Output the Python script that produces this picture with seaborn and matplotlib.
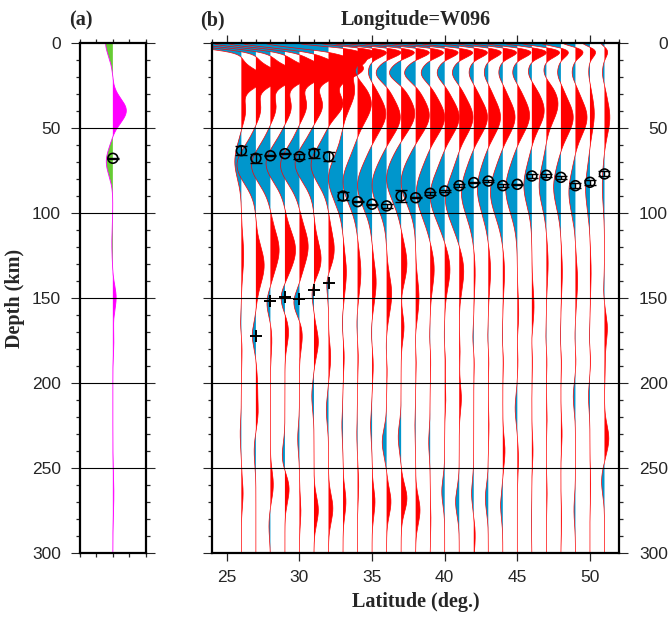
import numpy as np
import seaborn as sns
import matplotlib
matplotlib.use("Agg")
import matplotlib.pyplot as plt
from matplotlib.ticker import MultipleLocator

# ---- data ----
lats = list(range(26, 52))

# each trace = sum of pulses (depth km, amplitude in deg. of latitude, width km)
surf_dep = [0] * 26
surf_amp = [-5, -5, -5, -5, -5, -5, -4.5,
            -3.5, -3, -3, -3, -3, -3, -3, -3, -3, -2.5, -2.5, -2.5, -2.5,
            -2.2, -2, -1.5, -1, -0.6, -0.3]
surf_wid = [3] * 7 + [2] * 19

shal_dep = [21, 20, 19, 18, 17, 16, 15, 9, 6] + [5.5] * 17
shal_amp = [1.6, 1.8, 1.9, 2.0, 2.1, 2.2, 2.4, 1.5, 1.3, 1.05, 1.08, 1.0, 1.03,
            1.0, 1.0, 1.0, 1.0, 0.95, 1.0, 1.0, 1.05, 0.95, 0.55, 0.55, 0.4, 0.23]
shal_wid = [5, 5, 5, 5, 5, 5, 6, 5, 3.5] + [3] * 17

mid_dep = [30] * 7 + [18] * 19
mid_amp = [0] * 7 + [0, -0.3, -0.3, -0.75, -0.85, -0.8, -0.65, -0.55, -0.5, -0.35,
                     -0.3, -0.3, -0.35, -0.3, -0.3, -0.25, -0.25, -0.1, -0.15]
mid_wid = [5] * 26

moho_dep = [40, 39, 38, 38, 37, 37, 36, 28, 36, 42, 44, 42, 43, 44, 44, 44, 44,
            44, 44, 43, 40, 36, 44, 44, 42, 44]
moho_amp = [0.3, 0.35, 0.4, 0.45, 0.5, 0.6, 1.0, 0.8, 0.95, 0.95, 0.95, 0.95,
            0.95, 1.0, 1.0, 0.95, 0.95, 0.85, 0.85, 0.85, 0.85, 0.8, 0.85, 0.8,
            0.3, 0.37]
moho_wid = [7] * 7 + [10] * 19

lab_dep = [70, 72, 72, 71, 72, 71, 72, 80, 82, 84, 84, 80, 82, 88, 90, 92, 88,
           86, 88, 86, 84, 84, 85, 88, 86, 84]
lab_amp = [-0.45, -1.3, -1.3, -1.3, -1.3, -1.3, -1.2, -1.0, -1.0, -1.0, -1.0,
           -1.0, -1.0, -0.95, -1.0, -0.95, -0.85, -0.75, -0.85, -0.8, -0.55,
           -0.5, -0.5, -0.45, -0.3, -0.15]
lab_wid = [10] + [11] * 6 + [13] * 6 + [14] * 7 + [12] * 6

p1_dep = [125, 131, 122, 122, 120, 128, 122, 135, 135, 141, 148, 130, 150, 133,
          133, 134, 135, 134, 135, 160, 155, 130, 135, 140, 135, 168]
p1_amp = [0.16, 0.57, 0.6, 0.73, 0.6, 0.5, 0.4, 0.23, 0.23, 0.28, 0.35, 0.4,
          0.23, 0.28, 0.37, 0.32, 0.1, 0.16, 0.12, 0.1, 0.15, 0.12, 0.1, 0.15,
          0.08, 0.2]
p1_wid = [11] * 25 + [8]

n1_dep = [165, 172, 153, 150, 153, 145, 140, 165, 165, 170, 180, 150, 175, 175,
          175, 175, 175, 175, 175, 175, 175, 175, 175, 175, 175, 145]
n1_amp = [-0.06, -0.25, -0.25, -0.3, -0.4, -0.25, -0.2, -0.05, -0.05, -0.05,
          -0.05, -0.05, -0.05, -0.05, -0.05, -0.05, -0.08, -0.05, -0.05, -0.05,
          -0.05, -0.05, -0.05, -0.05, -0.05, -0.06]
n1_wid = [7] * 26

p2_dep = [180, 200, 175, 170, 172, 176, 185, 185, 185, 190, 190, 167, 185, 185,
          185, 178, 185, 185, 185, 185, 185, 185, 185, 185, 185, 190]
p2_amp = [0.05, 0.1, 0.1, 0.25, 0.2, 0.3, 0.15, 0.08, 0.05, 0.08, 0.05, 0.2,
          0.05, 0.05, 0.06, 0.1, 0.05, 0.05, 0.05, 0.05, 0.05, 0.05, 0.05, 0.05,
          0.05, 0.05]
p2_wid = [8] * 26

d1_dep = [230, 217, 260, 244, 233, 208, 216, 225, 230, 225, 235, 232, 225, 235,
          208, 209, 290, 225, 240, 215, 240, 220, 230, 208, 208, 233]
d1_amp = [-0.08, 0.15, 0.2, -0.2, -0.12, -0.15, -0.15, -0.08, -0.05, -0.1, -0.3,
          -0.2, -0.05, -0.1, 0.08, 0.15, 0.1, 0.05, 0.15, -0.15, 0.08, 0.05,
          0.08, -0.15, -0.1, 0.3]
d1_wid = [8] * 26

d2_dep = [265, 240, 284, 262, 275, 275, 274, 270, 260, 270, 270, 268, 275, 280,
          264, 270, 265, 268, 272, 245, 280, 265, 280, 275, 260, 258]
d2_amp = [0.12, -0.12, -0.1, 0.3, 0.1, 0.3, 0.3, 0.2, 0.08, 0.2, 0.3, 0.4, 0.3,
          0.05, -0.2, -0.25, -0.15, -0.2, -0.15, 0.08, -0.03, 0.05, 0.05, -0.1,
          0.05, -0.2]
d2_wid = [8] * 26

pulses = [(surf_dep, surf_amp, surf_wid), (shal_dep, shal_amp, shal_wid),
          (mid_dep, mid_amp, mid_wid), (moho_dep, moho_amp, moho_wid),
          (lab_dep, lab_amp, lab_wid), (p1_dep, p1_amp, p1_wid),
          (n1_dep, n1_amp, n1_wid), (p2_dep, p2_amp, p2_wid),
          (d1_dep, d1_amp, d1_wid), (d2_dep, d2_amp, d2_wid)]

# picks: circles with depth error, crosses
circ_lat = lats
circ_dep = [63.5, 68, 66.5, 65.3, 67, 65.1, 67, 90.2, 93.5, 95, 96, 90.2, 91.2,
            88.6, 87.2, 84.1, 82.3, 81.4, 84.1, 83.3, 78.4, 78, 79.2, 84.1, 82.1,
            77.2]
circ_err = [2.5, 2.5, 0.4, 0.4, 1.5, 2.5, 2.5, 2.5, 0.4, 0.4, 1.0, 3.5, 0.4, 1.0,
            0.4, 1.0, 0.4, 0.4, 1.0, 0.4, 1.0, 1.0, 1.0, 1.5, 1.5, 1.5]
cross_lat = [27, 28, 29, 30, 31, 32]
cross_dep = [172.5, 151.8, 149.8, 150.8, 145.5, 141.2]

# panel (a): stacked trace
stack_dep = [0, 40, 70, 118, 150, 175, 265]
stack_amp = [-0.22, 0.41, -0.2, -0.03, 0.1, 0.03, 0.03]
stack_wid = [8, 7, 8, 10, 7, 8, 12]
stack_pick = 68

RED = "#ff0000"
BLUE = "#0096cc"
MAGENTA = "#ff00ff"
GREEN = "#66cc33"

sns.set_style("ticks")
plt.rcParams['font.family'] = ['Liberation Sans', 'DejaVu Sans']
serif = dict(family='Liberation Serif', weight='bold', size=14.5)

depth = np.linspace(0, 300, 1501)


def wiggle(i):
    amp = np.zeros_like(depth)
    for d, a, w in pulses:
        amp += a[i] * np.exp(-0.5 * ((depth - d[i]) / w[i]) ** 2)
    return amp


fig = plt.figure(figsize=(6.7, 6.19), dpi=100)
W, H = 670, 619
axa = fig.add_axes([80 / W, 1 - 552.7 / H, 65.7 / W, 510 / H])
axb = fig.add_axes([212.3 / W, 1 - 552.7 / H, 406.7 / W, 510 / H])

# ---- panel (b) ----
for i, lat in enumerate(lats):
    a = wiggle(i)
    z = 2 + i * 0.01
    axb.fill_betweenx(depth, lat, lat + a, where=a > 0, interpolate=True,
                      color=RED, lw=0, zorder=z)
    axb.fill_betweenx(depth, lat, lat + a, where=a < 0, interpolate=True,
                      color=BLUE, lw=0, zorder=z)
    axb.plot(lat + a, depth, color=RED, lw=0.5, zorder=z + 0.005)

axb.errorbar(circ_lat, circ_dep, yerr=circ_err, fmt='none', ecolor='black',
             elinewidth=1, capsize=4, capthick=1, zorder=10)
sns.scatterplot(x=circ_lat, y=circ_dep, marker='o', s=50, facecolor='none',
                edgecolor='black', linewidth=1.2, ax=axb, zorder=11)
sns.scatterplot(x=cross_lat, y=cross_dep, marker='+', s=85, color='black',
                linewidth=1.4, ax=axb, zorder=11)

# ---- panel (a) ----
sa = np.zeros_like(depth)
for d, a, w in zip(stack_dep, stack_amp, stack_wid):
    sa += a * np.exp(-0.5 * ((depth - d) / w) ** 2)
axa.fill_betweenx(depth, 0, sa, where=sa > 0, interpolate=True, color=MAGENTA, lw=0)
axa.fill_betweenx(depth, 0, sa, where=sa < 0, interpolate=True, color=GREEN, lw=0)
axa.plot(sa, depth, color=MAGENTA, lw=0.6)
axa.errorbar([0], [stack_pick], yerr=[0.4], fmt='none', ecolor='black',
             elinewidth=1, capsize=4, capthick=1, zorder=10)
sns.scatterplot(x=[0], y=[stack_pick], marker='o', s=50, facecolor='none',
                edgecolor='black', linewidth=1.2, ax=axa, zorder=11)

# ---- axes styling ----
for ax in (axa, axb):
    ax.set_ylim(300, 0)
    ax.set_yticks(range(0, 301, 50))
    ax.yaxis.set_minor_locator(MultipleLocator(10))
    for d in range(50, 300, 50):
        ax.axhline(d, color='black', lw=0.8, zorder=20)
    for s in ax.spines.values():
        s.set_linewidth(1.6)
        s.set_color('black')
        s.set_zorder(30)
    ax.set_xlabel("")
    ax.set_ylabel("")
    ax.tick_params(axis='y', which='major', direction='out', left=True,
                   right=True, length=6.3, width=0.8, labelsize=12.5)
    ax.tick_params(axis='y', which='minor', direction='out', left=True,
                   right=True, length=3, width=0.9)

axa.set_xlim(-1, 1)
axa.set_xticks([-1, -0.5, 0, 0.5, 1])
axa.tick_params(axis='x', which='major', direction='out', top=True, bottom=True,
                length=3, width=0.9, labelbottom=False)
axa.tick_params(axis='y', which='major', labelleft=True, labelright=False, pad=7.5)

axb.set_xlim(24, 52)
axb.set_xticks([25, 30, 35, 40, 45, 50])
axb.xaxis.set_minor_locator(MultipleLocator(1))
axb.tick_params(axis='x', which='major', direction='out', top=True, bottom=True,
                length=5.5, width=0.9, labelsize=12.5, pad=7)
axb.tick_params(axis='x', which='minor', direction='out', top=True, bottom=False,
                length=3, width=0.9)
axb.tick_params(axis='y', which='major', labelleft=False, labelright=True, pad=29)
for t in axb.yaxis.get_major_ticks():
    t.label2.set_horizontalalignment('right')

axb.set_xlabel("Latitude (deg.)", fontdict=serif, labelpad=5)

fig.text(81 / W, 1 - 20 / H, "(a)", ha='center', va='center', fontdict=serif)
fig.text(212 / W, 1 - 20 / H, "(b)", ha='center', va='center', fontdict=serif)
fig.text(415.6 / W, 1 - 20 / H, "Longitude=W096", ha='center', va='center',
         fontdict=serif)
fig.text(15 / W, 1 - 298 / H, "Depth (km)", ha='center', va='center',
         rotation=90, fontdict=serif)

fig.savefig("out.png", dpi=100)
